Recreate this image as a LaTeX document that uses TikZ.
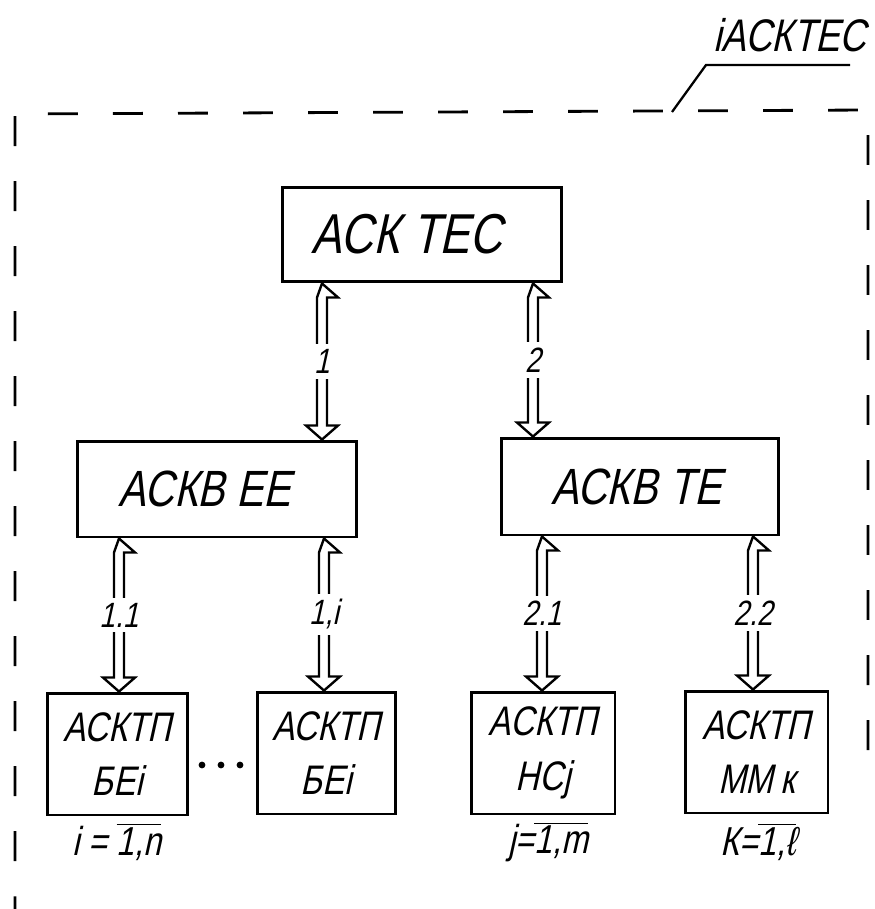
\documentclass[tikz,border=0pt]{standalone}
\usepackage{fontspec}
\newfontfamily\hand{Liberation Sans}[FakeSlant=0.22,FakeStretch=0.8]
\usetikzlibrary{calc}
\newcommand\dblarr[3]{%
  \draw[arr] (#1) -- ++(16,14) -- ++(-11,0) -- ($(#2)+(5,-14)$) -- ++(11,0) -- (#2)
    -- ++(-16,-14) -- ++(11,0) -- ($(#1)+(-5,14)$) -- cycle;
  \node[lbl] at ($(#1)!0.5!(#2)$) {#3};}
\begin{document}
\begin{tikzpicture}[x=0.02cm,y=-0.02cm,
  box/.style={draw,line width=1.7pt,inner sep=0pt,align=center},
  arr/.style={line width=1.35pt,line join=miter},
  lbl/.style={fill=white,inner sep=3pt,font=\hand\fontsize{20}{20}\selectfont},
  frame/.style={line width=1.6pt,dash pattern=on 17pt off 20pt},
  big/.style={font=\hand\fontsize{32}{36}\selectfont},
  mid/.style={font=\hand\fontsize{29}{32}\selectfont},
  small/.style={font=\hand\fontsize{23.5}{31}\selectfont},
  sub/.style={font=\hand\fontsize{23}{24}\selectfont}]
\useasboundingbox (0,0) rectangle (875,909);

% frame and leader
\coordinate (fr1) at (868,750);
\coordinate (fr2) at (868,110);
\coordinate (fr3) at (15,114);
\coordinate (fr4) at (15,909);
\draw[frame] (fr1) -- (fr2) -- (fr3) -- (fr4);
\coordinate (ld1) at (672,112);
\coordinate (ld2) at (706,65);
\coordinate (ld3) at (850,65);
\draw[line width=1.3pt] (ld1) -- (ld2) -- (ld3);
\node[font=\hand\fontsize{26}{27}\selectfont, anchor=south] (title) at (790,58) {іАСКТЕС};

% boxes
\node[box, big, minimum width=5.6cm, minimum height=1.9cm] (top) at (422,234.5) {АСК ТЕС\hspace{0.6cm}};
\node[box, mid, minimum width=5.6cm, minimum height=1.92cm] (ee) at (217,489) {АСКВ ЕЕ\hspace{0.5cm}};
\node[box, mid, minimum width=5.56cm, minimum height=1.94cm] (te) at (640,486.5) {АСКВ ТЕ\hspace{0.15cm}};
\node[box, small, minimum width=2.82cm, minimum height=2.44cm] (b1) at (117.5,754) {АСКТП\\БЕі};
\node[box, small, minimum width=2.78cm, minimum height=2.44cm] (b2) at (326.5,753) {АСКТП\\БЕі};
\node[box, small, minimum width=2.88cm, minimum height=2.44cm] (b3) at (543,753) {АСКТП\\НСj};
\node[box, small, minimum width=2.86cm, minimum height=2.44cm] (b4) at (756.5,752) {АСКТП\\ММ\,к};

% dots
\fill (202,765) circle (3.4) (221,765) circle (3.4) (240,765) circle (3.4);

% sub labels
\node[sub] (s1) at (117,842) {i = $\overline{\mbox{1,n}}$};
\node[sub] (s3) at (548,842) {j=$\overline{\mbox{1,m}}$};
\node[sub] (s4) at (758,842) {К=$\overline{\mbox{1,ℓ}}$};

% double arrows
\coordinate (x1) at (322,0);
\coordinate (x2) at (533,0);
\coordinate (x11) at (119,0);
\coordinate (x1i) at (324,0);
\coordinate (x21) at (542,0);
\coordinate (x22) at (753,0);
\coordinate (p1a) at (top.south -| x1);  \coordinate (p1b) at (ee.north -| x1);
\coordinate (p2a) at (top.south -| x2);  \coordinate (p2b) at (te.north -| x2);
\coordinate (p3a) at (ee.south -| x11);  \coordinate (p3b) at (b1.north -| x11);
\coordinate (p4a) at (ee.south -| x1i);  \coordinate (p4b) at (b2.north -| x1i);
\coordinate (p5a) at (te.south -| x21);  \coordinate (p5b) at (b3.north -| x21);
\coordinate (p6a) at (te.south -| x22);  \coordinate (p6b) at (b4.north -| x22);
\dblarr{p1a}{p1b}{1}
\dblarr{p2a}{p2b}{2}
\dblarr{p3a}{p3b}{1.1}
\dblarr{p4a}{p4b}{1,i}
\dblarr{p5a}{p5b}{2.1}
\dblarr{p6a}{p6b}{2.2}
\end{tikzpicture}
\end{document}
